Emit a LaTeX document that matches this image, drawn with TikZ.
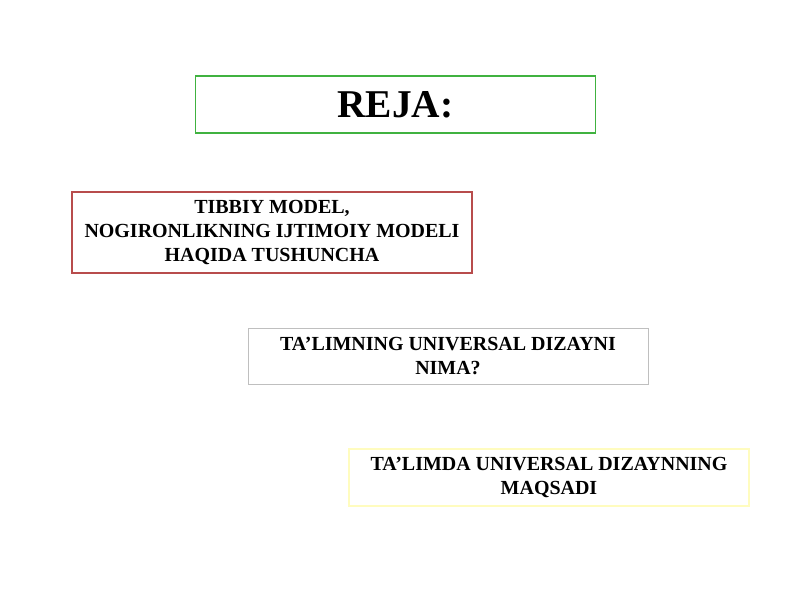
\documentclass[tikz,border=0pt]{standalone}
\usepackage{fontspec}
\setmainfont{Liberation Serif}
\begin{document}
\begin{tikzpicture}[x=0.025cm,y=-0.025cm,
  box/.style={draw,line width=1.2pt,minimum width=400*0.025cm,inner sep=0pt,align=center,font=\bfseries\fontsize{14.2}{17}\selectfont,text=black},
  ]
\useasboundingbox (0,0) rectangle (800,600);
\fill[white] (0,0) rectangle (800,600);
\node[box,draw=green!60!black!75,minimum height=57*0.025cm,font=\bfseries\fontsize{28}{32}\selectfont] (reja) at (395.5,104.5) {REJA:};
\node[box,draw=red!60!black!70,minimum height=81*0.025cm] (tib) at (272,232.5) {TIBBIY MODEL,\\NOGIRONLIKNING IJTIMOIY MODELI\\HAQIDA TUSHUNCHA};
\node[box,draw=black!25,line width=0.6pt,minimum height=56*0.025cm] (tal) at (448,356) {TA’LIMNING UNIVERSAL DIZAYNI\\NIMA?};
\node[box,draw=yellow!25,minimum height=57*0.025cm] (maq) at (549,477.5) {TA’LIMDA UNIVERSAL DIZAYNNING\\MAQSADI};
\end{tikzpicture}
\end{document}
